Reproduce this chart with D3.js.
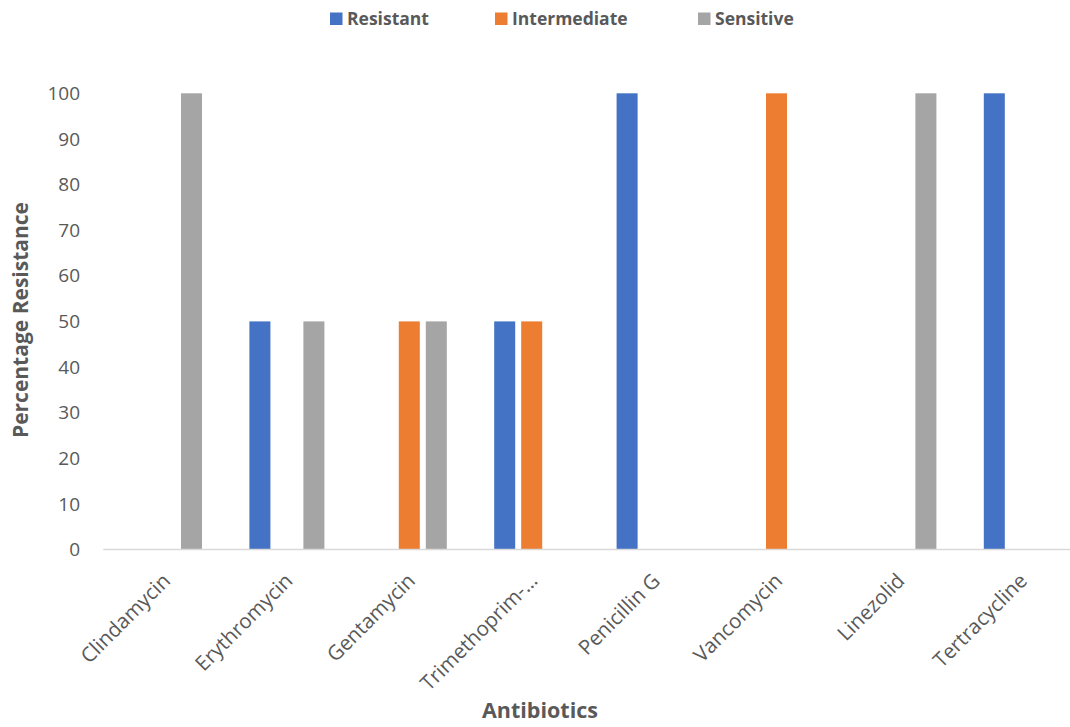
<!DOCTYPE html>
<html><head><meta charset="utf-8">
<script src="https://cdn.jsdelivr.net/npm/d3@7"></script>
<style>body{margin:0;background:#fff;} text{font-family:"Open Sans",sans-serif;}</style>
</head><body>
<svg id="c" width="1070" height="727"></svg>
<script>
const categories = ["Clindamycin","Erythromycin","Gentamycin","Trimethoprim-…","Penicillin G","Vancomycin","Linezolid","Tertracycline"];
const seriesNames = ["Resistant","Intermediate","Sensitive"];
const resistant =    [0, 50, 0, 50, 100, 0, 0, 100];
const intermediate = [0, 0, 50, 50, 0, 100, 0, 0];
const sensitive =    [100, 50, 50, 0, 0, 0, 100, 0];
const yTicks = [0,10,20,30,40,50,60,70,80,90,100];
const colors = ["#4472C4","#ED7D31","#A5A5A5"];
const seriesValues = [resistant, intermediate, sensitive];

const svg = d3.select("#c");
const x0 = d3.scaleBand().domain(categories).range([103.3, 1082.5]).paddingInner(0).paddingOuter(0);
const x1 = d3.scaleBand().domain(seriesNames).range([-37.5, 37.5]).paddingInner(0.222);
const y = d3.scaleLinear().domain([0,100]).range([549.5, 93.3]);

// bars
seriesNames.forEach((s, si) => {
  svg.append("g").selectAll("rect").data(categories.map((c, i) => ({c, v: seriesValues[si][i]})))
    .enter().filter(d => d.v > 0).append("rect")
    .attr("x", d => x0(d.c) + x0.bandwidth()/2 + x1(s))
    .attr("width", x1.bandwidth())
    .attr("y", d => y(d.v))
    .attr("height", d => y(0) - y(d.v))
    .attr("fill", colors[si]);
});

// x axis line
svg.append("line").attr("x1", 103.3).attr("x2", 1082.5).attr("y1", y(0)).attr("y2", y(0))
  .attr("stroke", "#D9D9D9").attr("stroke-width", 1.5);

// y tick labels
svg.append("g").selectAll("text").data(yTicks).enter().append("text")
  .attr("x", 80).attr("y", d => y(d)).attr("dy", "0.35em")
  .attr("text-anchor", "end").attr("font-size", 19).attr("fill", "#595959").text(d => d);

// x category labels
svg.append("g").selectAll("text").data(categories).enter().append("text")
  .attr("transform", d => `translate(${x0(d) + x0.bandwidth()/2 + 2},${577}) rotate(-45)`)
  .attr("text-anchor", "end").attr("dy", "0.35em")
  .attr("font-size", 20.5).attr("fill", "#595959").text(d => d);

// axis titles
svg.append("text").attr("x", 540).attr("y", 710).attr("dy", "0.35em").attr("text-anchor", "middle")
  .attr("font-size", 21.5).attr("font-weight", "bold").attr("fill", "#595959").text("Antibiotics");
svg.append("text").attr("transform", "translate(21,320) rotate(-90)").attr("dy", "0.35em").attr("text-anchor", "middle")
  .attr("font-size", 21).attr("font-weight", "bold").attr("fill", "#595959").text("Percentage Resistance");

// legend
const legX = [330, 495, 698];
seriesNames.forEach((s, i) => {
  svg.append("rect").attr("x", legX[i]).attr("y", 12.5).attr("width", 12.5).attr("height", 12.5).attr("fill", colors[i]);
  svg.append("text").attr("x", legX[i] + 17).attr("y", 19).attr("dy", "0.35em")
    .attr("font-size", 17.5).attr("font-weight", "bold").attr("fill", "#595959").text(s);
});
</script>
</body></html>
